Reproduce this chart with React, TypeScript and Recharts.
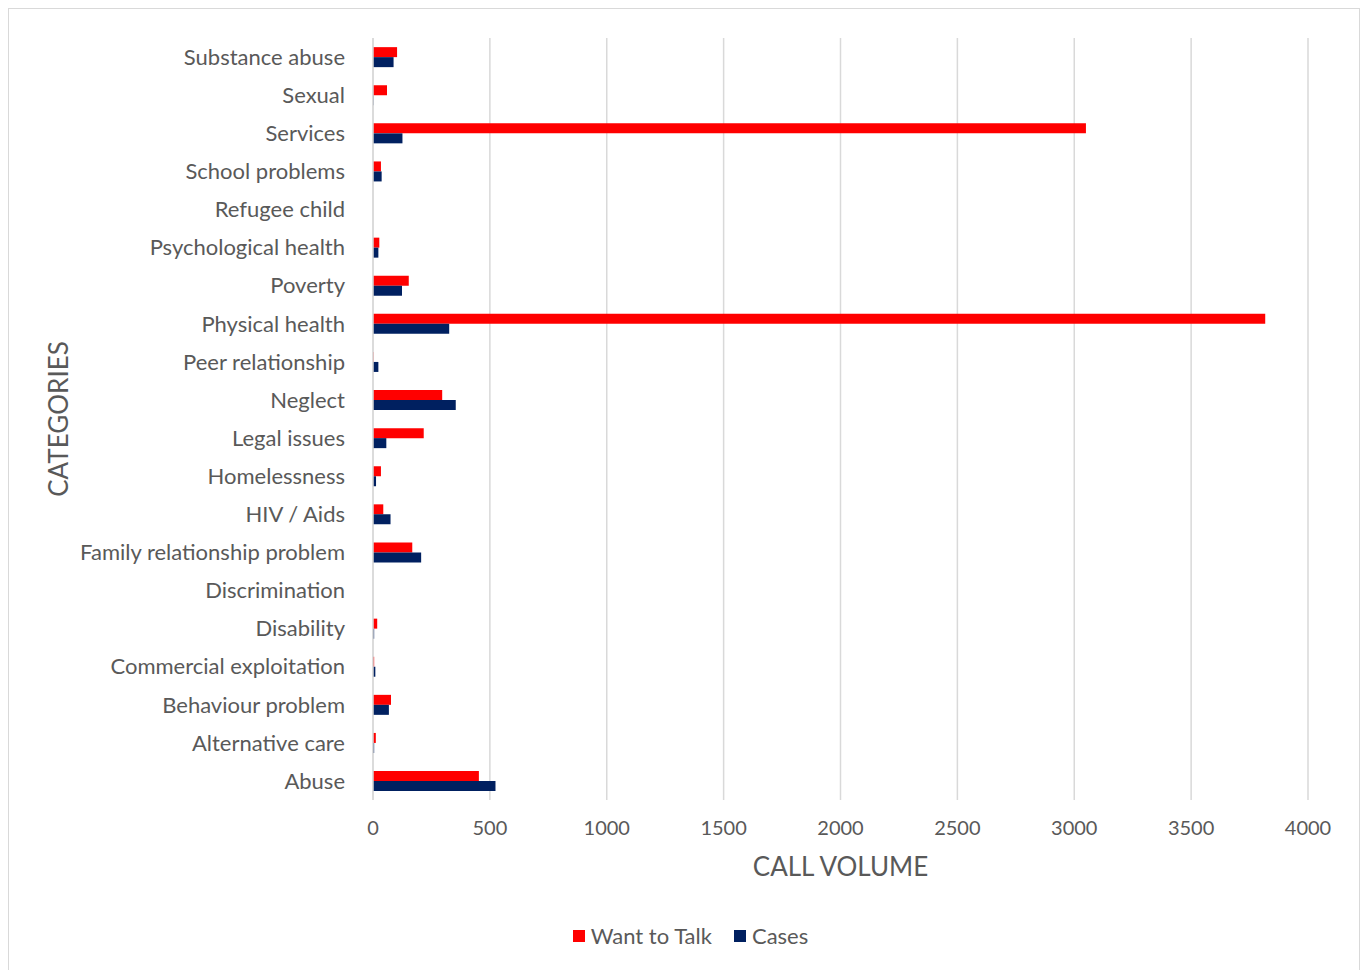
import { Bar, BarChart, CartesianGrid, Legend, XAxis, YAxis } from 'recharts';

const categories = [
  'Substance abuse',
  'Sexual',
  'Services',
  'School problems',
  'Refugee child',
  'Psychological health',
  'Poverty',
  'Physical health',
  'Peer relationship',
  'Neglect',
  'Legal issues',
  'Homelessness',
  'HIV / Aids',
  'Family relationship problem',
  'Discrimination',
  'Disability',
  'Commercial exploitation',
  'Behaviour problem',
  'Alternative care',
  'Abuse',
];

const wantToTalk = [103, 60, 3050, 34, 0, 27, 153, 3817, 2, 296, 217, 34, 44, 168, 0, 18, 5, 77, 12, 453];
const cases = [88, 2, 126, 37, 0, 23, 124, 326, 23, 354, 57, 13, 75, 206, 0, 5, 10, 68, 5, 524];

const xTicks = [0, 500, 1000, 1500, 2000, 2500, 3000, 3500, 4000];

const RED = '#ff0000';
const NAVY = '#002060';
const TEXT = '#595959';
const GRID = '#d9d9d9';
const FONT = 'Lato, "Open Sans", sans-serif';

const rows = categories.map((name, i) => ({
  name,
  talk: wantToTalk[i],
  cases: cases[i],
}));

function LegendBox() {
  const items = [
    { label: 'Want to Talk', color: RED },
    { label: 'Cases', color: NAVY },
  ];
  return (
    <div style={{ display: 'flex', justifyContent: 'center', gap: 22, height: 24, lineHeight: '24px', fontFamily: FONT, fontSize: 22, color: TEXT, paddingLeft: 64 }}>
      {items.map((it) => (
        <div key={it.label} style={{ display: 'flex', alignItems: 'center' }}>
          <span style={{ width: 12, height: 12, background: it.color, display: 'inline-block', marginRight: 6 }} />
          <span>{it.label}</span>
        </div>
      ))}
    </div>
  );
}

export default function App() {
  return (
    <div style={{ width: 1350, height: 961, border: `1px solid ${GRID}`, background: '#fff' }}>
      <BarChart
        width={1350}
        height={961}
        data={rows}
        layout="vertical"
        margin={{ top: 29, right: 51, left: 0, bottom: 22 }}
        barCategoryGap="24%"
        barGap={0}
      >
        <CartesianGrid horizontal={false} stroke={GRID} strokeWidth={1.5} />
        <XAxis
          type="number"
          domain={[0, 4000]}
          ticks={xTicks}
          axisLine={false}
          tickLine={false}
          tickSize={0}
          tickMargin={21}
          height={124}
          tick={{ fill: TEXT, fontSize: 20, fontFamily: FONT }}
          label={{
            content: ({ viewBox }: any) => (
              <text
                x={viewBox.x + viewBox.width / 2}
                y={viewBox.y + 66}
                textAnchor="middle"
                dominantBaseline="central"
                fill={TEXT}
                fontSize={26}
                fontFamily={FONT}
              >
                CALL VOLUME
              </text>
            ),
          }}
        />
        <YAxis
          type="category"
          dataKey="name"
          width={364}
          axisLine={{ stroke: GRID, strokeWidth: 1.5 }}
          tickLine={false}
          tickSize={0}
          tickMargin={28}
          interval={0}
          tick={{ fill: TEXT, fontSize: 22, fontFamily: FONT }}
          label={{
            content: ({ viewBox }: any) => {
              const cy = viewBox.y + viewBox.height / 2;
              return (
                <text
                  x={49}
                  y={cy}
                  transform={`rotate(-90 49 ${cy})`}
                  textAnchor="middle"
                  dominantBaseline="central"
                  fill={TEXT}
                  fontSize={26}
                  fontFamily={FONT}
                >
                  CATEGORIES
                </text>
              );
            },
          }}
        />
        <Legend verticalAlign="bottom" content={() => <LegendBox />} />
        <Bar dataKey="talk" name="Want to Talk" fill={RED} isAnimationActive={false} />
        <Bar dataKey="cases" name="Cases" fill={NAVY} isAnimationActive={false} />
      </BarChart>
    </div>
  );
}
